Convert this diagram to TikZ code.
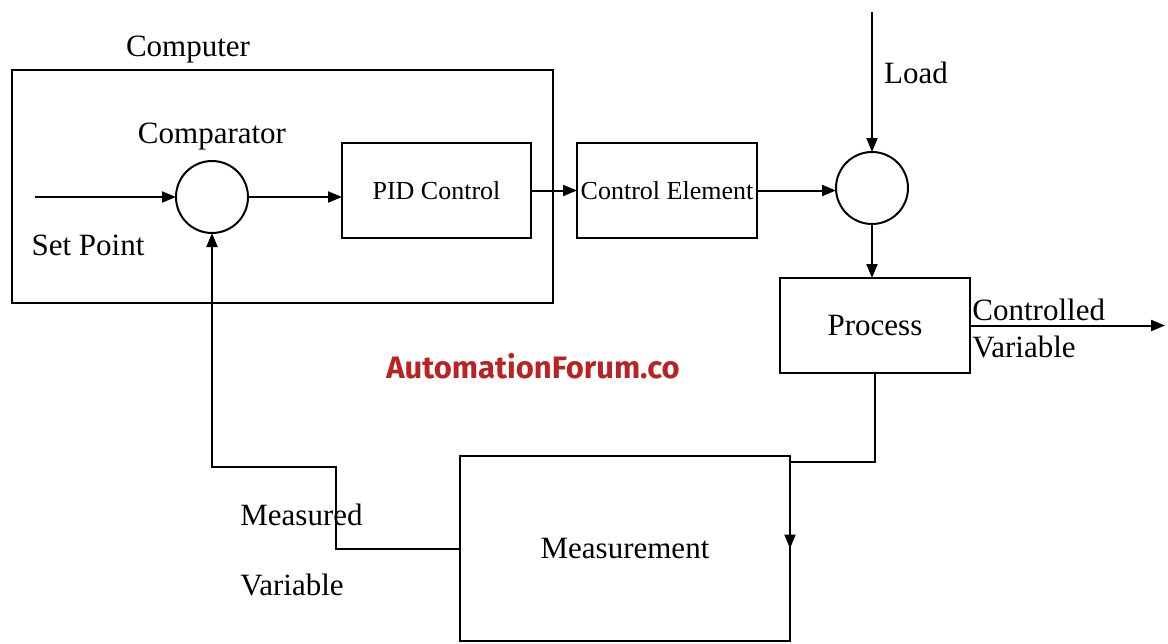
\documentclass[tikz,border=0pt]{standalone}
\usepackage{fontspec}
\setmainfont{Liberation Serif}
\newfontfamily\wmfont{Fira Sans}
\usetikzlibrary{arrows.meta,positioning}
\definecolor{wmred}{RGB}{184,36,36}
\tikzset{
  blk/.style={draw, line width=1pt, rectangle, inner sep=0pt, outer sep=0pt},
  sumnode/.style={draw, line width=1pt, circle, minimum size=36pt, inner sep=0pt, outer sep=0pt},
  lbl/.style={inner sep=0pt, font=\fontsize{15.5}{18}\selectfont},
  arr/.style={line width=1pt, -{Triangle[length=7pt,width=5.5pt]}},
  ln/.style={line width=1pt}
}
\begin{document}
\begin{tikzpicture}[x=0.5pt, y=-0.5pt]
  \useasboundingbox (0,0) rectangle (1168,643);

  % Rechner-Rahmen
  \node[blk, minimum width=270.5pt, minimum height=116.5pt] (comp) at (282.5,186.5) {};
  \node[lbl] (complbl) at (188,50) {Computer};

  % Vergleicher und Regler
  \node[sumnode] (cmp) at (212,197) {};
  \node[lbl] (cmplbl) at (212,137) {Comparator};
  \node[blk, minimum width=94.5pt, minimum height=47.5pt, font=\fontsize{13}{15}\selectfont] (pid) at (436.5,190.5) {PID Control};
  \node[blk, minimum width=90pt, minimum height=47.5pt, font=\fontsize{13}{15}\selectfont] (ce) at (667,190.5) {Control Element};

  % Stoerung, Strecke, Messung
  \node[sumnode] (sum) at (872,188) {};
  \node[blk, minimum width=95pt, minimum height=47.5pt, font=\fontsize{15.5}{18}\selectfont] (proc) at (875,325.5) {Process};
  \node[blk, minimum width=165pt, minimum height=92.5pt, font=\fontsize{15.5}{18}\selectfont] (meas) at (625,548.5) {Measurement};

  % Ein- und Ausgaenge
  \coordinate (sp) at (35,197);
  \coordinate (ld) at (872,12);
  \coordinate (cv) at (1165,325.5);
  \node[lbl] (splbl) at (88,245) {Set Point};
  \node[lbl] (ldlbl) at (916,73) {Load};
  \node[lbl, anchor=west] (cvlbl1) at (972,310) {Controlled};
  \node[lbl, anchor=west] (cvlbl2) at (972,347) {Variable};
  \node[lbl, anchor=west] (mvlbl1) at (240,515) {Measured};
  \node[lbl, anchor=west] (mvlbl2) at (240,585) {Variable};

  % Wasserzeichen
  \node[inner sep=0pt, text=wmred, font=\wmfont\bfseries\fontsize{15.5}{18}\selectfont] (wm) at (533,366) {AutomationForum.co};

  % Verbindungen
  \draw[arr] (sp) -- (cmp.west);
  \draw[arr] (cmp.east) -- (cmp.east -| pid.west);
  \draw[arr] (pid.east) -- (ce.west);
  \draw[arr] (ce.east) -- (ce.east -| sum.west);
  \draw[arr] (ld) -- (sum.north);
  \draw[arr] (sum.south) -- (sum.south |- proc.north);
  \draw[arr] (proc.east) -- (cv);
  \draw[arr] (proc.south) |- ([yshift=-3pt]meas.north east) -- (meas.east);
  \draw[arr] (meas.west) -- ++(-124,0) -- ++(0,-82) -| (cmp.south);
\end{tikzpicture}
\end{document}
